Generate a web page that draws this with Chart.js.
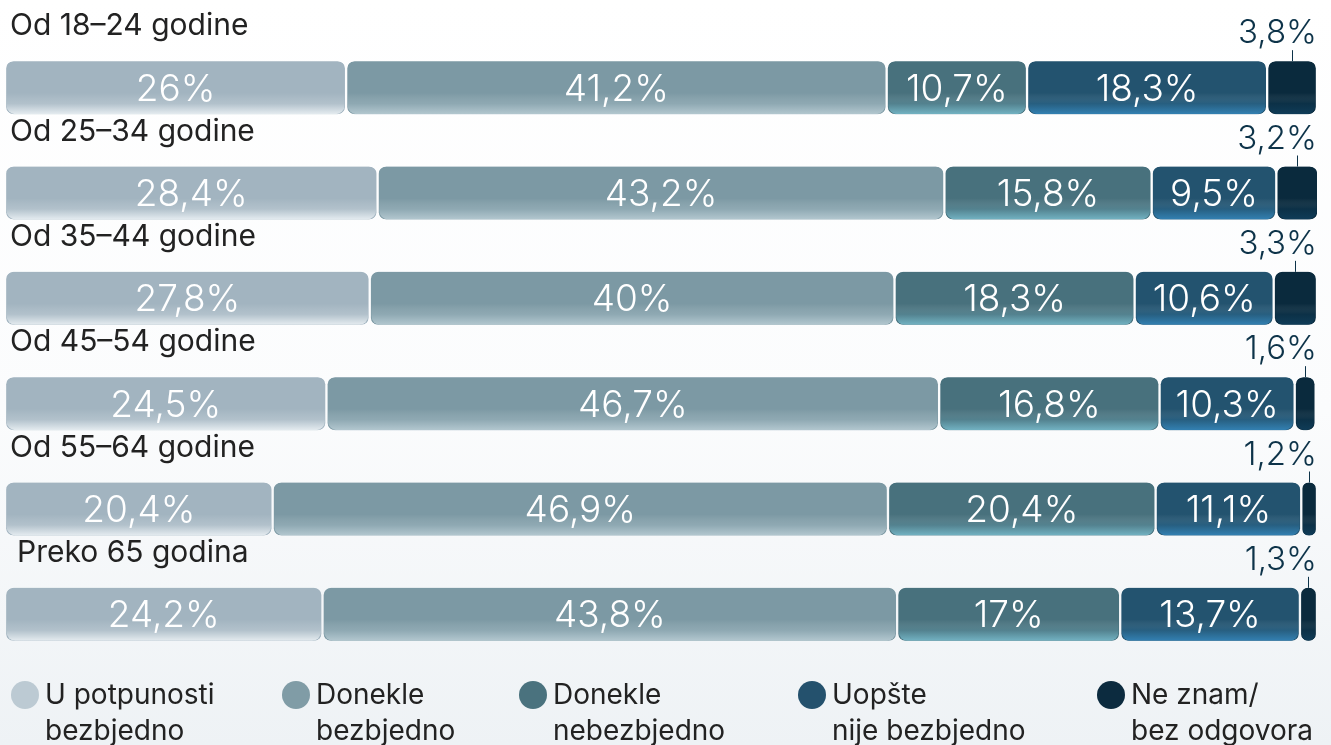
<!DOCTYPE html>
<html>
<head>
<meta charset="utf-8">
<script src="https://cdn.jsdelivr.net/npm/chart.js@4"></script>
<style>
  html, body { margin: 0; padding: 0; }
  body {
    width: 1331px; height: 745px; overflow: hidden; position: relative;
    background: linear-gradient(#ffffff 0%, #fbfcfd 55%, #eef2f5 100%);
    font-family: Inter, "Noto Sans", sans-serif;
  }
  #wrap { position: absolute; left: 0; top: 0; width: 1331px; height: 745px; }
  .legend { position: absolute; top: 676px; left: 0; width: 1331px; height: 70px; }
  .item { position: absolute; top: 0; color: #222; font-size: 28px; line-height: 36px; }
  .item .dot { position: absolute; left: -34px; top: 5px; width: 28px; height: 28px; border-radius: 50%; }
</style>
</head>
<body>
<div id="wrap"><canvas id="myChart" width="1331" height="745"></canvas></div>
<div class="legend" id="legend"></div>
<script>
const ageGroups = ['Od 18–24 godine', 'Od 25–34 godine', 'Od 35–44 godine', 'Od 45–54 godine', 'Od 55–64 godine', 'Preko 65 godina'];
const seriesNames = ['U potpunosti\nbezbjedno', 'Donekle\nbezbjedno', 'Donekle\nnebezbjedno', 'Uopšte\nnije bezbjedno', 'Ne znam/\nbez odgovora'];
const fullySafe = [26, 28.4, 27.8, 24.5, 20.4, 24.2];
const somewhatSafe = [41.2, 43.2, 40, 46.7, 46.9, 43.8];
const somewhatUnsafe = [10.7, 15.8, 18.3, 16.8, 20.4, 17];
const notSafe = [18.3, 9.5, 10.6, 10.3, 11.1, 13.7];
const dontKnow = [3.8, 3.2, 3.3, 1.6, 1.2, 1.3];

const colors = ['#a2b4c0', '#7c99a4', '#48717d', '#23536f', '#0a2a3d'];
const glow = ['rgba(240,245,248,0.85)', 'rgba(215,230,236,0.6)', 'rgba(125,195,212,0.8)', 'rgba(55,140,195,0.8)', 'rgba(20,75,110,0.55)'];
const legendDots = ['#bccad3', '#809ca6', '#4a727e', '#24516d', '#0c2b3f'];
const legendX = [45, 316, 553, 832, 1131];

const fmt = (v) => String(v).replace('.', ',') + '%';

const ctx = document.getElementById('myChart').getContext('2d');
const seriesData = [fullySafe, somewhatSafe, somewhatUnsafe, notSafe, dontKnow];
const radius = { topLeft: 9, topRight: 9, bottomLeft: 9, bottomRight: 9 };

// glow at the bottom of each bar, labels, and the callouts for the small segment
const barDecor = {
  id: 'barDecor',
  afterDatasetsDraw(chart) {
    const c = chart.ctx;
    chart.data.datasets.forEach((ds, di) => {
      const meta = chart.getDatasetMeta(di);
      meta.data.forEach((bar, i) => {
        const left = bar.base + 1.5, right = bar.x - 1.5;
        const top = bar.y - bar.height / 2, h = bar.height;
        c.save();
        c.beginPath();
        c.roundRect(left, top, right - left, h, Math.min(9, (right - left) / 2));
        c.clip();
        const g = c.createLinearGradient(0, top + h * 0.6, 0, top + h);
        g.addColorStop(0, 'rgba(255,255,255,0)');
        g.addColorStop(0.5, glow[di].replace(/[\d.]+\)$/, '0.2)'));
        g.addColorStop(1, glow[di]);
        c.fillStyle = g;
        c.fillRect(left, top, right - left, h);
        c.restore();

        const v = ds.data[i];
        c.save();
        if (di < 4) {
          c.font = '300 37px Inter, "Noto Sans", sans-serif';
          c.fillStyle = '#ffffff';
          c.textAlign = 'center';
          c.textBaseline = 'middle';
          c.fillText(fmt(v), (left + right) / 2, bar.y + 2);
        } else {
          c.fillStyle = '#0d3349';
          c.font = '300 33px Inter, "Noto Sans", sans-serif';
          c.textAlign = 'right';
          c.textBaseline = 'alphabetic';
          c.fillText(fmt(v), 1317, top - 18);
          c.strokeStyle = '#0d3349';
          c.lineWidth = 1;
          c.beginPath();
          const cx = Math.round((left + right) / 2) + 0.5;
          c.moveTo(cx, top - 11);
          c.lineTo(cx, top);
          c.stroke();
        }
        c.restore();
      });
    });
    // category labels above each bar
    const meta0 = chart.getDatasetMeta(0);
    c.save();
    c.font = '400 30px Inter, "Noto Sans", sans-serif';
    c.fillStyle = '#222222';
    c.textAlign = 'left';
    c.textBaseline = 'alphabetic';
    meta0.data.forEach((bar, i) => {
      const top = bar.y - bar.height / 2;
      c.fillText(chart.data.labels[i], i === 5 ? 17 : 10, top - 26);
    });
    c.restore();
  }
};

const config = {
  type: 'bar',
  data: {
    labels: ageGroups,
    datasets: seriesData.map((d, k) => ({
      label: seriesNames[k],
      data: d,
      backgroundColor: colors[k],
      borderColor: 'rgba(0,0,0,0)',
      borderWidth: { left: 1.5, right: 1.5, top: 0, bottom: 0 },
      borderRadius: radius,
      borderSkipped: false,
      barThickness: 53,
    })),
  },
  options: {
    indexAxis: 'y',
    responsive: false,
    animation: false,
    layout: { padding: { top: 35, bottom: 78, left: 5, right: 14 } },
    scales: {
      x: { stacked: true, min: 0, max: 100, display: false },
      y: { stacked: true, display: false },
    },
    plugins: {
      legend: { display: false },
      tooltip: { enabled: false },
    },
  },
  plugins: [barDecor],
};
new Chart(ctx, config);

const legendEl = document.getElementById('legend');
seriesNames.forEach((name, k) => {
  const item = document.createElement('div');
  item.className = 'item';
  item.style.left = legendX[k] + 'px';
  item.innerHTML = '<span class="dot" style="background:' + legendDots[k] + '"></span>' + name.replace('\n', '<br>');
  legendEl.appendChild(item);
});
</script>
</body>
</html>
